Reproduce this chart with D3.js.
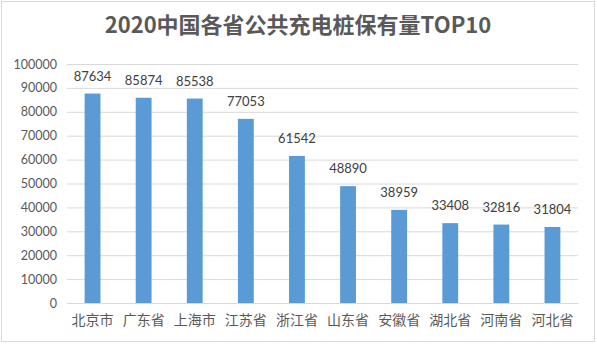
<!DOCTYPE html>
<html><head><meta charset="utf-8">
<script src="https://cdn.jsdelivr.net/npm/d3@7"></script>
<style>body{margin:0;background:#fff}svg{display:block}</style>
</head><body>
<script>
const categories = ["北京市","广东省","上海市","江苏省","浙江省","山东省","安徽省","湖北省","河南省","河北省"];
const values = [87634,85874,85538,77053,61542,48890,38959,33408,32816,31804];
const yTicks = [0,10000,20000,30000,40000,50000,60000,70000,80000,90000,100000];
const title = "2020中国各省公共充电桩保有量TOP10";

const W = 597, H = 345;
const svg = d3.select("body").append("svg").attr("width", W).attr("height", H);
svg.append("rect").attr("x",1.5).attr("y",1.5).attr("width",593).attr("height",340)
  .attr("fill","#fff").attr("stroke","#d9d9d9").attr("stroke-width",1);

const m = {left:67, right:578, top:64, bottom:303};
const x = d3.scaleBand().domain(categories).range([m.left, m.right]).paddingInner(0.69).paddingOuter(0.345);
const y = d3.scaleLinear().domain([0,100000]).range([m.bottom, m.top]);

svg.append("text").attr("x",298).attr("y",33).attr("text-anchor","middle")
  .attr("font-family","'Noto Sans CJK SC', sans-serif").attr("font-weight","bold")
  .attr("font-size",22).attr("fill","#595959").text(title);

const ga = svg.append("g").attr("transform",`translate(${m.left},0)`)
  .call(d3.axisLeft(y).tickValues(yTicks).tickSize(-(m.right-m.left)).tickFormat(d3.format("d")));
ga.select(".domain").remove();
ga.selectAll(".tick line").attr("stroke","#d9d9d9").attr("stroke-width",1);
ga.selectAll(".tick text").attr("x",-10).attr("font-family","Lato, sans-serif").attr("font-size",12.5).attr("fill","#595959");

svg.selectAll("rect.bar").data(values).join("rect").attr("class","bar")
  .attr("x",(d,i)=>x(categories[i])).attr("width",x.bandwidth())
  .attr("y",d=>y(d)).attr("height",d=>y(0)-y(d)).attr("fill","#5b9bd5");

svg.selectAll("text.lbl").data(values).join("text").attr("class","lbl")
  .attr("x",(d,i)=>x(categories[i])+x.bandwidth()/2).attr("y",d=>y(d)-13)
  .attr("text-anchor","middle").attr("font-family","Lato, sans-serif").attr("font-size",13)
  .attr("fill","#404040").text(d=>d);

const gx = svg.append("g").attr("transform",`translate(0,${m.bottom})`)
  .call(d3.axisBottom(x).tickSize(0).tickPadding(12));
gx.select(".domain").attr("stroke","#d9d9d9");
gx.selectAll(".tick text").attr("font-family","'Noto Sans CJK SC', sans-serif").attr("font-size",14).attr("fill","#595959");
</script>
</body></html>
